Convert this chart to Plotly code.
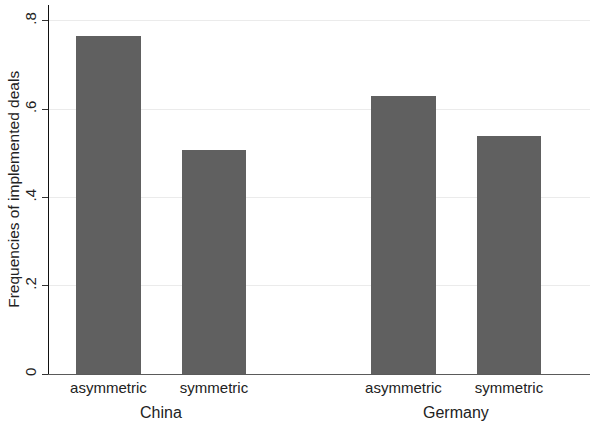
import plotly.graph_objects as go

countries = ["China", "Germany"]
conditions = ["asymmetric", "symmetric"]
values = {
    "China": [0.766, 0.508],
    "Germany": [0.630, 0.538],
}
y_tickvals = [0, 0.2, 0.4, 0.6, 0.8]
y_ticktext = ["0", ".2", ".4", ".6", ".8"]

GROUP_STEP = 2.794  # distance between group starts (in bar-slot units)
BAR_W = 0.61
FONT = "Liberation Sans, Arial, Helvetica, sans-serif"

xs, ys, labels = [], [], []
group_centers = []
for gi, c in enumerate(countries):
    pos = [gi * GROUP_STEP + k for k in range(len(conditions))]
    xs += pos
    ys += values[c]
    labels += conditions
    group_centers.append(sum(pos) / len(pos))

fig = go.Figure(go.Bar(
    x=xs, y=ys, width=BAR_W,
    marker=dict(color="#606060", line=dict(width=0)),
    hoverinfo="skip",
))

annotations = []
for c, gc in zip(countries, group_centers):
    annotations.append(dict(
        x=gc, y=-0.105, xref="x", yref="paper", text=c, showarrow=False,
        font=dict(family=FONT, size=16, color="#222"), xanchor="center", yanchor="middle",
    ))
annotations.append(dict(
    x=-0.066, y=0.5, xref="paper", yref="paper", text="Frequencies of implemented deals",
    textangle=-90, showarrow=False, font=dict(family=FONT, size=15.5, color="#222"),
    xanchor="center", yanchor="middle",
))

fig.update_layout(
    width=590, height=425,
    margin=dict(l=49, r=0, t=5, b=51, autoexpand=False),
    paper_bgcolor="white", plot_bgcolor="white",
    showlegend=False,
    bargap=0,
    annotations=annotations,
    xaxis=dict(
        range=[-0.5625, 4.561],
        tickvals=xs, ticktext=labels,
        tickfont=dict(family=FONT, size=15, color="#222"),
        ticks="", showgrid=False, zeroline=False,
        showline=True, linecolor="#5a5a5a", linewidth=1,
        fixedrange=True,
    ),
    yaxis=dict(
        range=[0, 0.8356],
        tickvals=y_tickvals, ticktext=y_ticktext,
        tickangle=-90,
        tickfont=dict(family=FONT, size=15, color="#222"),
        ticks="outside", ticklen=6, tickcolor="#333", tickwidth=1,
        showgrid=True, gridcolor="#ebebeb", gridwidth=1,
        zeroline=False,
        showline=True, linecolor="#111", linewidth=1,
        fixedrange=True,
    ),
)

fig.write_html("out.html", config={"displayModeBar": False},
               post_script="document.body.style.margin='0';")
